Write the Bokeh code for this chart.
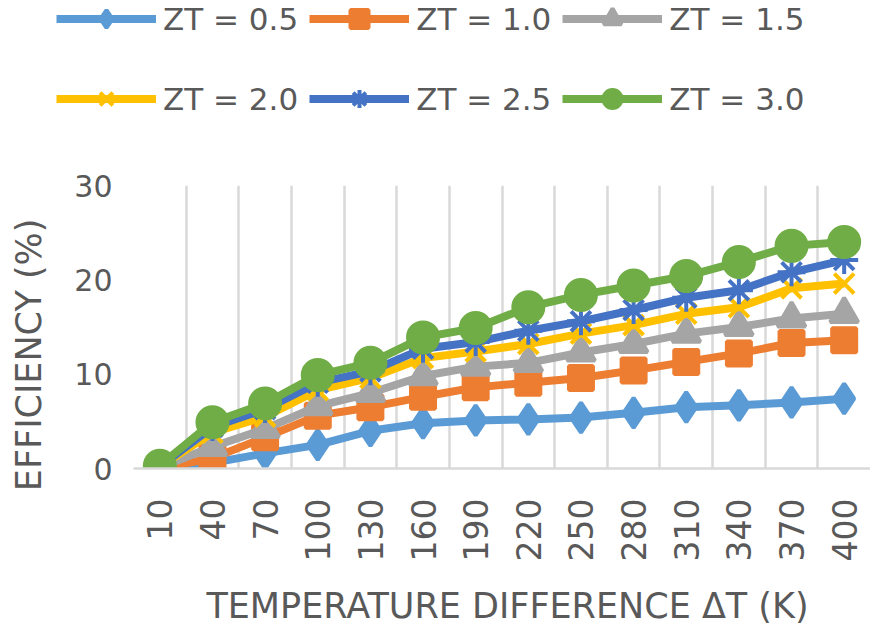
import math
from bokeh.plotting import figure
from bokeh.models import FixedTicker, Legend, LegendItem, Label
from bokeh.embed import file_html
from bokeh.resources import INLINE

# ---- data ----
delta_t = [10, 40, 70, 100, 130, 160, 190, 220, 250, 280, 310, 340, 370, 400]
series_labels = ["ZT = 0.5", "ZT = 1.0", "ZT = 1.5", "ZT = 2.0", "ZT = 2.5", "ZT = 3.0"]
eff_zt05 = [0.1, 0.6, 1.6, 2.5, 4.0, 4.8, 5.1, 5.2, 5.4, 5.9, 6.5, 6.7, 7.0, 7.4]
eff_zt10 = [0.0, 1.1, 3.3, 5.6, 6.5, 7.6, 8.6, 9.1, 9.6, 10.4, 11.3, 12.2, 13.3, 13.6]
eff_zt15 = [0.1, 2.3, 4.2, 6.6, 8.0, 9.8, 10.8, 11.2, 12.3, 13.2, 14.3, 15.0, 15.9, 16.4]
eff_zt20 = [0.2, 3.8, 5.5, 8.3, 9.6, 11.7, 12.4, 13.2, 14.3, 15.2, 16.4, 17.1, 19.1, 19.6]
eff_zt25 = [0.2, 4.4, 6.3, 9.1, 10.3, 12.7, 13.4, 14.6, 15.6, 16.8, 18.1, 18.9, 20.8, 22.1]
eff_zt30 = [0.3, 4.9, 6.9, 9.9, 11.2, 13.9, 14.9, 17.1, 18.4, 19.4, 20.4, 21.9, 23.6, 24.0]
y_ticks = [0, 10, 20, 30]
x_title = "TEMPERATURE DIFFERENCE \u0394T (K)"
y_title = "EFFICIENCY (%)"

all_series = [eff_zt05, eff_zt10, eff_zt15, eff_zt20, eff_zt25, eff_zt30]
colors = ["#5B9BD5", "#ED7D31", "#A5A5A5", "#FFC000", "#4472C4", "#70AD47"]
markers = ["diamond", "square", "triangle", "x", "asterisk", "circle"]
sizes = [30, 24, 28, 28, 28, 30]

FONT = "DejaVu Sans"
TXT = "#595959"
GRID = "#d9d9d9"
W = 870
LEG_H = 150      # legend strip
TTL_H = 40       # x-axis title strip
MAIN_H = 625 - LEG_H - TTL_H
FRAME_L = 133
FRAME_TOP = 35
FRAME_BOTTOM = 318   # from the top of the chart canvas

x_idx = list(range(len(delta_t)))

# ---------------- main chart ----------------
p = figure(width=W, height=MAIN_H, output_backend="svg", toolbar_location=None,
           x_range=(-0.5, len(delta_t) - 0.5), y_range=(0, 30),
           min_border_left=FRAME_L, min_border_right=0,
           min_border_top=FRAME_TOP, min_border_bottom=MAIN_H - FRAME_BOTTOM)
p.outline_line_color = None
p.background_fill_color = "white"
p.border_fill_color = "white"

p.xaxis.ticker = FixedTicker(ticks=x_idx)
p.xaxis.major_label_overrides = {i: str(v) for i, v in zip(x_idx, delta_t)}
p.xaxis.major_label_orientation = math.pi / 2
p.xaxis.major_label_text_font = FONT
p.xaxis.major_label_text_font_size = "33px"
p.xaxis.major_label_text_color = TXT
p.xaxis.major_label_standoff = 30
p.xaxis.axis_line_color = GRID
p.xaxis.axis_line_width = 2.5
p.xaxis.major_tick_line_color = None
p.xaxis.minor_tick_line_color = None
p.xaxis.major_tick_out = 0
p.xaxis.major_tick_in = 0
p.xaxis.minor_tick_out = 0

p.yaxis.ticker = FixedTicker(ticks=y_ticks)
p.yaxis.major_label_text_font = FONT
p.yaxis.major_label_text_font_size = "30px"
p.yaxis.major_label_text_color = TXT
p.yaxis.major_label_standoff = 21
p.yaxis.axis_line_color = None
p.yaxis.major_tick_line_color = None
p.yaxis.minor_tick_line_color = None
p.yaxis.major_tick_out = 0
p.yaxis.major_tick_in = 0
p.yaxis.minor_tick_out = 0
p.yaxis.axis_label = y_title + "\u00a0" * 5
p.yaxis.axis_label_text_font = FONT
p.yaxis.axis_label_text_font_size = "35px"
p.yaxis.axis_label_text_font_style = "normal"
p.yaxis.axis_label_text_color = TXT
p.yaxis.axis_label_standoff = 22

p.xgrid.ticker = FixedTicker(ticks=[i - 0.5 for i in range(len(delta_t) + 1)])
p.xgrid.grid_line_color = GRID
p.xgrid.grid_line_width = 2.5
p.ygrid.visible = False

# ---------------- legend strip ----------------
lf = figure(width=W, height=LEG_H, output_backend="svg", toolbar_location=None,
            x_range=(-200, -199), y_range=(-200, -199),
            x_axis_type=None, y_axis_type=None, min_border=0)
lf.outline_line_color = None
lf.grid.visible = False
lf.background_fill_color = "white"
lf.border_fill_color = "white"

items = []
for vals, lbl, col, mk, sz in zip(all_series, series_labels, colors, markers, sizes):
    p.line(x_idx, vals, line_color=col, line_width=8)
    p.scatter(x_idx, vals, marker=mk, size=sz, fill_color=col, line_color=col, line_width=4)
    # same series in the legend strip (outside its view), carrying the legend keys
    rl = lf.line(x_idx, vals, line_color=col, line_width=8)
    rs = lf.scatter(x_idx, vals, marker=mk, size=sz, fill_color=col, line_color=col, line_width=4)
    items.append(LegendItem(label=lbl, renderers=[rl, rs]))

def make_legend(its, loc):
    lg = Legend(items=its, location=loc, orientation="horizontal")
    lg.background_fill_alpha = 0
    lg.border_line_alpha = 0
    lg.padding = 0
    lg.margin = 0
    lg.spacing = 11
    lg.label_standoff = 7
    lg.glyph_width = 100
    lg.glyph_height = 45
    lg.label_height = 45
    lg.label_text_font = FONT
    lg.label_text_font_size = "31px"
    lg.label_text_color = TXT
    return lg

lf.add_layout(make_legend(items[:3], (56, 109)))
lf.add_layout(make_legend(items[3:], (56, 29)))

# ---------------- x-axis title strip ----------------
tf = figure(width=W, height=TTL_H, output_backend="svg", toolbar_location=None,
            x_range=(0, 1), y_range=(0, 1),
            x_axis_type=None, y_axis_type=None, min_border=0)
tf.outline_line_color = None
tf.grid.visible = False
tf.background_fill_color = "white"
tf.border_fill_color = "white"
tf.add_layout(Label(x=507, y=TTL_H / 2, x_units="screen", y_units="screen",
                    text=x_title, text_align="center", text_baseline="middle",
                    text_font=FONT, text_font_size="35px", text_color=TXT))

open("out.html", "w").write(file_html([lf, p, tf], INLINE))
